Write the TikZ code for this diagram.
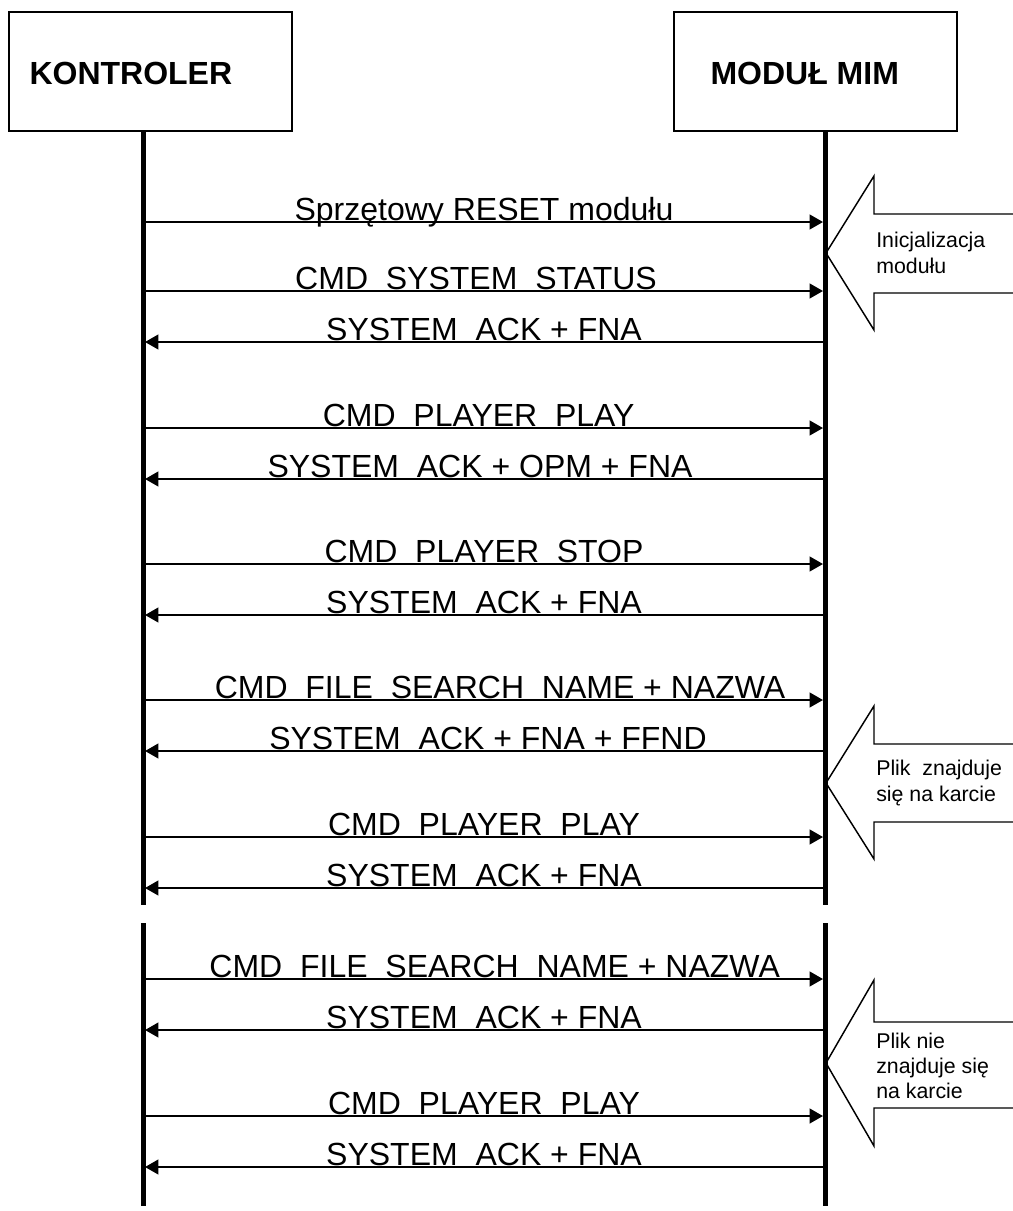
\documentclass[tikz,border=0pt]{standalone}
\usepackage{fontspec}
\setmainfont{Liberation Sans}
\usetikzlibrary{arrows.meta, positioning}
% gap left where the underscore is hidden by the message line
\newcommand{\gapu}{\hspace{0.556em}}

\begin{document}
\begin{tikzpicture}[x=0.75pt, y=-0.75pt,
    >={Triangle[length=10pt, width=11pt]},
    head/.style={draw, line width=1.1pt, minimum width=212.25pt,
      minimum height=89.25pt, inner sep=0pt},
    title/.style={font=\fontsize{24}{28}\selectfont\bfseries,
      inner sep=0pt, anchor=west},
    life/.style={line width=3.75pt},
    msg/.style={->, line width=1.5pt},
    lbl/.style={font=\fontsize{24}{28}\selectfont, inner sep=0pt,
      anchor=base, yshift=1.5pt},
    note/.style={line width=1.1pt, line join=miter},
    notetext/.style={font=\fontsize{16}{19}\selectfont, align=left,
      inner sep=0pt, anchor=west}]

    \useasboundingbox (0,0) rectangle (1013,1211);

    % Heads of the two lifelines
    \node[head] (kon) at (150.5,71.5) {};
    \node[head] (mod) at (815.5,71.5) {};
    \node[title] (konT) at ([xshift=15.75pt, yshift=-1.5pt]kon.west) {KONTROLER};
    \node[title] (modT) at ([xshift=27.75pt, yshift=-1.5pt]mod.west) {MODUŁ MIM};

    % Lifelines, broken once
    \coordinate (kA) at (143,131);  \coordinate (kB) at (143,905);
    \coordinate (kC) at (143,923);  \coordinate (kD) at (143,1206);
    \coordinate (mA) at (825,131);  \coordinate (mB) at (825,905);
    \coordinate (mC) at (825,923);  \coordinate (mD) at (825,1206);
    \draw[life] (kA) -- (kB);
    \draw[life] (kC) -- (kD);
    \draw[life] (mA) -- (mB);
    \draw[life] (mC) -- (mD);

    % End points of the messages
    \foreach \y [count=\i] in {222,291,342,428,479,564,615,700,751,837,888,
        979,1030,1116,1167} {
      \coordinate (k\i) at (145,\y);
      \coordinate (m\i) at (823,\y);
    }

    % Start up
    \draw[msg] (k1) -- node[lbl] {Sprzętowy RESET modułu} (m1);
    \draw[msg] (k2) -- node[lbl, xshift=-6pt] {CMD\gapu SYSTEM\gapu STATUS} (m2);
    \draw[msg] (m3) -- node[lbl] {SYSTEM\gapu ACK + FNA} (k3);

    % Play and stop
    \draw[msg] (k4) -- node[lbl, xshift=-4pt] {CMD\gapu PLAYER\gapu PLAY} (m4);
    \draw[msg] (m5) -- node[lbl, xshift=-3pt] {SYSTEM\gapu ACK + OPM + FNA} (k5);
    \draw[msg] (k6) -- node[lbl] {CMD\gapu PLAYER\gapu STOP} (m6);
    \draw[msg] (m7) -- node[lbl] {SYSTEM\gapu ACK + FNA} (k7);

    % File found
    \draw[msg] (k8) -- node[lbl, xshift=12pt] {CMD\gapu FILE\gapu SEARCH\gapu NAME + NAZWA} (m8);
    \draw[msg] (m9) -- node[lbl, xshift=3pt] {SYSTEM\gapu ACK + FNA + FFND} (k9);
    \draw[msg] (k10) -- node[lbl] {CMD\gapu PLAYER\gapu PLAY} (m10);
    \draw[msg] (m11) -- node[lbl] {SYSTEM\gapu ACK + FNA} (k11);

    % File not found
    \draw[msg] (k12) -- node[lbl, xshift=8pt] {CMD\gapu FILE\gapu SEARCH\gapu NAME + NAZWA} (m12);
    \draw[msg] (m13) -- node[lbl] {SYSTEM\gapu ACK + FNA} (k13);
    \draw[msg] (k14) -- node[lbl] {CMD\gapu PLAYER\gapu PLAY} (m14);
    \draw[msg] (m15) -- node[lbl] {SYSTEM\gapu ACK + FNA} (k15);

    % Block arrows with remarks
    \draw[note] (1013,214) -- (874,214) -- (874,176) -- (826,253)
      -- (874,330) -- (874,293) -- (1013,293);
    \node[notetext] (init) at (876,253) {Inicjalizacja\\modułu};

    \draw[note] (1013,744) -- (874,744) -- (874,706) -- (826,783)
      -- (874,859) -- (874,822) -- (1013,822);
    \node[notetext] (jest) at (876,783) {Plik\ \ znajduje\\się na karcie};

    \draw[note] (1013,1022) -- (874,1022) -- (874,980) -- (826,1063)
      -- (874,1146) -- (874,1108) -- (1013,1108);
    \node[notetext] (brak) at (876,1066) {Plik nie\\znajduje się\\na karcie};

  \end{tikzpicture}
\end{document}
